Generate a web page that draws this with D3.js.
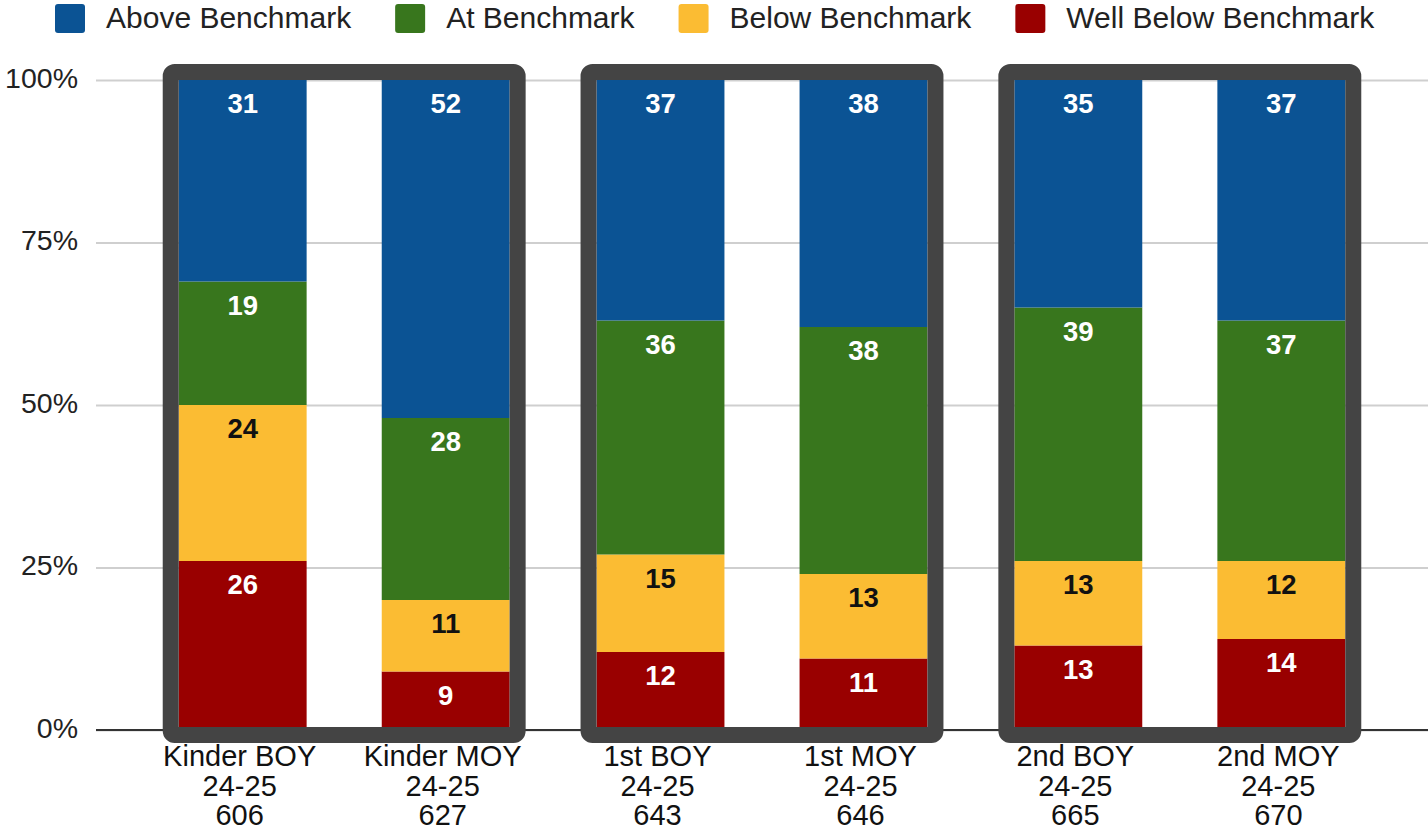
<!DOCTYPE html>
<html>
<head>
<meta charset="utf-8">
<script src="https://cdn.jsdelivr.net/npm/d3@7"></script>
<style>
  body { margin: 0; background: #fff; }
  svg { display: block; font-family: "Liberation Sans", Arial, sans-serif; }
</style>
</head>
<body>
<svg width="1428" height="832"></svg>
<script>
// chart data
var categories = ["Kinder BOY", "Kinder MOY", "1st BOY", "1st MOY", "2nd BOY", "2nd MOY"];
var years = ["24-25", "24-25", "24-25", "24-25", "24-25", "24-25"];
var counts = ["606", "627", "643", "646", "665", "670"];
var groups = ["Kinder", "1st", "2nd"];
var groupOf = [0, 0, 1, 1, 2, 2];
var slotOf = [0, 1, 0, 1, 0, 1];

var series = ["Well Below Benchmark", "Below Benchmark", "At Benchmark", "Above Benchmark"];
var wellBelow = [26, 9, 12, 11, 13, 14];
var below = [24, 11, 15, 13, 13, 12];
var atBench = [19, 28, 36, 38, 39, 37];
var above = [31, 52, 37, 38, 35, 37];
var legendOrder = ["Above Benchmark", "At Benchmark", "Below Benchmark", "Well Below Benchmark"];

var colors = {
  "Above Benchmark": "#0b5394",
  "At Benchmark": "#38761d",
  "Below Benchmark": "#fbbc33",
  "Well Below Benchmark": "#990000"
};
var labelColors = {
  "Above Benchmark": "#fff",
  "At Benchmark": "#fff",
  "Below Benchmark": "#111",
  "Well Below Benchmark": "#fff"
};

var svg = d3.select("svg"),
    margin = {top: 80, right: 0, bottom: 102, left: 96},
    width = +svg.attr("width") - margin.left - margin.right,
    height = +svg.attr("height") - margin.top - margin.bottom,
    g = svg.append("g").attr("transform", "translate(" + margin.left + "," + margin.top + ")");

var table = categories.map(function(c, i) {
  return {
    cat: c,
    "Well Below Benchmark": wellBelow[i],
    "Below Benchmark": below[i],
    "At Benchmark": atBench[i],
    "Above Benchmark": above[i]
  };
});

var stack = d3.stack().keys(series);
var stacked = stack(table);

var x0 = d3.scaleBand()
    .domain(groups)
    .range([0, width])
    .paddingInner(0.208)
    .paddingOuter(0.198);

var x1 = d3.scaleBand()
    .domain([0, 1])
    .range([0, x0.bandwidth()])
    .paddingInner(0.37)
    .paddingOuter(0);

var y = d3.scaleLinear()
    .domain([0, 100])
    .range([height, 0]);

function barX(i) {
  return x0(groups[groupOf[i]]) + x1(slotOf[i]);
}

// gridlines + y labels
var yAxis = g.append("g")
    .attr("class", "yaxis")
    .call(d3.axisLeft(y)
      .tickValues([0, 25, 50, 75, 100])
      .tickFormat(function(d) { return d + "%"; })
      .tickSize(-width)
      .tickPadding(18));

yAxis.select(".domain").remove();
yAxis.selectAll(".tick line")
    .attr("stroke", "#cfcfcf")
    .attr("stroke-width", 2);
yAxis.selectAll(".tick text")
    .attr("font-size", 28.5)
    .attr("font-family", "Liberation Sans, Arial, sans-serif")
    .attr("fill", "#222")
    .attr("dy", "0.25em");

// bars
var layer = g.selectAll(".layer")
    .data(stacked)
  .enter().append("g")
    .attr("class", "layer")
    .attr("fill", function(d) { return colors[d.key]; });

layer.selectAll("rect")
    .data(function(d) { return d; })
  .enter().append("rect")
    .attr("x", function(d, i) { return barX(i); })
    .attr("y", function(d) { return y(d[1]); })
    .attr("width", x1.bandwidth())
    .attr("height", function(d) { return y(d[0]) - y(d[1]); });

// baseline
g.append("line")
    .attr("x1", 0)
    .attr("x2", width)
    .attr("y1", y(0))
    .attr("y2", y(0))
    .attr("stroke", "#333")
    .attr("stroke-width", 2);

// group boxes
var sw = 16;
g.selectAll(".box")
    .data(groups)
  .enter().append("rect")
    .attr("class", "box")
    .attr("x", function(d) { return x0(d) - sw / 2; })
    .attr("y", y(100) - sw / 2)
    .attr("width", x0.bandwidth() + sw)
    .attr("height", y(0) - y(100) + sw / 2 + 5)
    .attr("rx", 4)
    .attr("fill", "none")
    .attr("stroke", "#444")
    .attr("stroke-width", sw);

// value labels near the top of each segment
layer.each(function(s) {
  d3.select(this).selectAll("text")
      .data(s)
    .enter().append("text")
      .attr("x", function(d, i) { return barX(i) + x1.bandwidth() / 2; })
      .attr("y", function(d) { return y(d[1]) + 33; })
      .attr("text-anchor", "middle")
      .attr("font-size", 27.5)
      .attr("font-weight", "bold")
      .attr("fill", labelColors[s.key])
      .text(function(d) { return d[1] - d[0]; });
});

// x labels, three lines each
var xl = g.selectAll(".xlabel")
    .data(categories)
  .enter().append("text")
    .attr("class", "xlabel")
    .attr("text-anchor", "middle")
    .attr("font-size", 29)
    .attr("fill", "#111")
    .attr("transform", function(d, i) {
      return "translate(" + (barX(i) + x1.bandwidth() / 2 - 3) + "," + (height + 36) + ")";
    });

xl.append("tspan").attr("x", 0).attr("y", 0).text(function(d) { return d; });
xl.append("tspan").attr("x", 0).attr("y", 29.5).text(function(d, i) { return years[i]; });
xl.append("tspan").attr("x", 0).attr("y", 59).text(function(d, i) { return counts[i]; });

// legend
var legend = svg.append("g").attr("class", "legend");
var lx = 55;
legendOrder.forEach(function(name) {
  legend.append("rect")
      .attr("x", lx)
      .attr("y", 4)
      .attr("width", 30)
      .attr("height", 29)
      .attr("rx", 3)
      .attr("fill", colors[name]);
  var t = legend.append("text")
      .attr("x", lx + 51)
      .attr("y", 28)
      .attr("font-size", 30)
      .attr("fill", "#222")
      .text(name);
  lx = lx + 51 + t.node().getComputedTextLength() + 44;
});
</script>
</body>
</html>
